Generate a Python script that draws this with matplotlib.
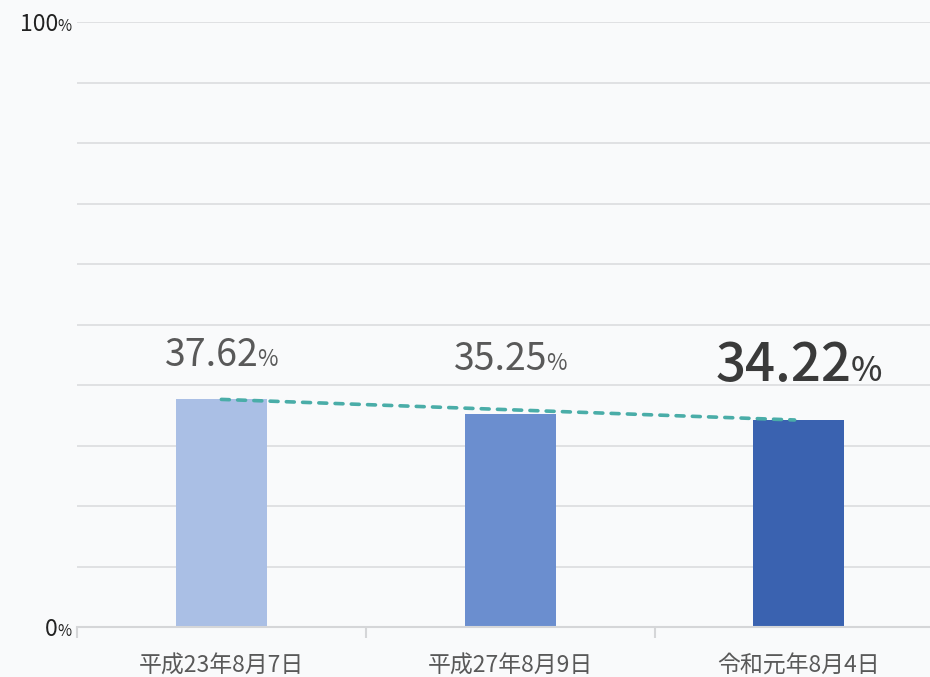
import matplotlib
matplotlib.use("Agg")
import matplotlib.pyplot as plt
import matplotlib.transforms as mtransforms

plt.rcParams['font.family'] = ['Noto Sans CJK JP', 'DejaVu Sans']

# ---------------------------------------------------------------
# data
# ---------------------------------------------------------------
categories = ['平成23年8月7日', '平成27年8月9日', '令和元年8月4日']
turnout = [37.62, 35.25, 34.22]
bar_colors = ['#aabfe5', '#6b8ecf', '#3a62b0']
ytick_values = [0, 100]

BG = '#f9fafb'

fig = plt.figure(figsize=(9.30, 6.77), dpi=100, facecolor=BG)
ax = fig.add_axes([77 / 930, 50 / 677, 1 - 77 / 930, 605 / 677])
ax.set_facecolor(BG)

x = list(range(len(categories)))
ax.bar(x, turnout, width=0.315, color=bar_colors, zorder=2)

# trend line from first to last bar top
ax.plot([x[0], x[-1] - 0.015], [turnout[0], turnout[-1]], color='#4aada8', lw=2.6,
        dashes=(2.2, 2.3), dash_capstyle='round', zorder=3)

ax.set_xlim(-0.5, 2.454)
ax.set_ylim(0, 100)

# grid
for gy in range(10, 101, 10):
    ax.axhline(gy, color='#dedfe1', lw=1.3, zorder=1)

for s in ['top', 'right', 'left']:
    ax.spines[s].set_visible(False)
ax.spines['bottom'].set_color('#d5d6d8')
ax.spines['bottom'].set_linewidth(1.5)

ax.set_yticks([])
ax.set_xticks(x)
ax.set_xticklabels(categories, fontsize=16.5, color='#595959')
ax.tick_params(axis='x', length=0, pad=20)
ax.set_xticks([-0.5, 0.5, 1.5], minor=True)
ax.tick_params(axis='x', which='minor', length=8, width=1.5, color='#d5d6d8', direction='out')

fig.canvas.draw()
r = fig.canvas.get_renderer()
pix = mtransforms.IdentityTransform()
blend = mtransforms.blended_transform_factory(pix, ax.transData)

# y axis labels: number + small %
for v in ytick_values:
    ax_left = ax.transData.transform((-0.5, 0))[0]
    tp = ax.text(ax_left - 5, v - 1.5, '%', fontsize=11, color='#222222',
                 ha='right', va='baseline', transform=blend, clip_on=False)
    wp = tp.get_window_extent(r).width
    ax.text(ax_left - 5 - wp, v - 1.5, str(v), fontsize=16.5, color='#222222',
            ha='right', va='baseline', transform=blend, clip_on=False)

# value labels
label_base = [43.1, 42.5, 40.6]
num_fs = [27, 27, 38]
pct_fs = [16, 16, 24]
num_col = ['#595959', '#595959', '#3a3a3a']
num_wt = ['normal', 'normal', 'medium']
for i, v in enumerate(turnout):
    t1 = ax.text(0, 0, f'{v:.2f}', fontsize=num_fs[i], color=num_col[i],
                 fontweight=num_wt[i], ha='left', va='baseline', transform=blend)
    t2 = ax.text(0, 0, '%', fontsize=pct_fs[i], color=num_col[i],
                 fontweight=num_wt[i], ha='left', va='baseline', transform=blend)
    w1 = t1.get_window_extent(r).width
    w2 = t2.get_window_extent(r).width
    gap = -1
    cx = ax.transData.transform((i, 0))[0]
    left = cx - (w1 + gap + w2) / 2
    t1.set_position((left, label_base[i]))
    t2.set_position((left + w1 + gap, label_base[i]))

fig.savefig('out.png', dpi=100, facecolor=BG)
